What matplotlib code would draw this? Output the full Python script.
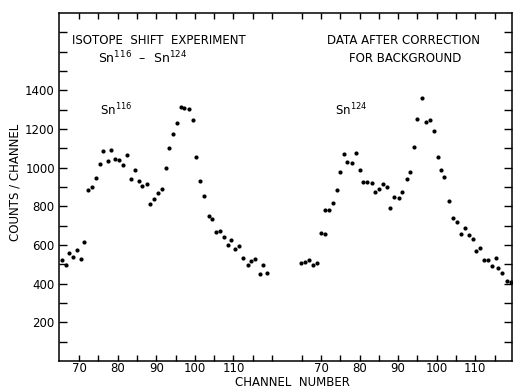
import numpy as np
import matplotlib
matplotlib.use("Agg")
import matplotlib.pyplot as plt

# Sn116 run (left half), channel numbers and counts
sn116_channel = [65.7, 66.5, 67.5, 68.5, 69.4, 70.4, 71.4, 72.3, 73.4, 74.3,
                 75.3, 76.3, 77.5, 78.4, 79.3, 80.4, 81.3, 82.4, 83.5, 84.6,
                 85.5, 86.4, 87.5, 88.3, 89.4, 90.4, 91.4, 92.5, 93.3, 94.4,
                 95.5, 96.3, 97.3, 98.5, 99.5, 100.3, 101.4, 102.5, 103.6, 104.5,
                 105.5, 106.5, 107.5, 108.5, 109.5, 110.5, 111.5, 112.5, 113.7, 114.6,
                 115.7, 116.8, 117.6, 118.6]
sn116_counts = [522, 495, 558, 538, 572, 529, 615, 884, 898, 947,
                1020, 1088, 1033, 1090, 1044, 1038, 1013, 1066, 941, 987,
                930, 906, 913, 810, 836, 867, 889, 1000, 1102, 1172,
                1230, 1314, 1306, 1301, 1244, 1057, 930, 855, 752, 735,
                665, 673, 640, 598, 625, 581, 596, 534, 495, 517,
                529, 452, 495, 454]

# Sn124 run (right half)
sn124_channel = [64.8, 65.9, 66.8, 68.0, 69.0, 70.0, 71.1, 71.0, 72.1, 73.0,
                 74.1, 74.9, 76.0, 76.8, 78.1, 79.1, 80.2, 81.0, 82.0, 83.1,
                 84.1, 85.1, 86.1, 87.0, 88.0, 89.0, 90.1, 91.1, 92.2, 93.0,
                 94.0, 94.9, 96.2, 97.1, 98.2, 99.2, 100.2, 101.0, 102.0, 103.1,
                 104.1, 105.2, 106.2, 107.2, 108.3, 109.3, 110.3, 111.3, 112.2, 113.2,
                 114.2, 115.3, 116.0, 117.0, 118.2, 119.2]
sn124_counts = [505, 510, 524, 495, 509, 663, 659, 783, 783, 819,
                882, 977, 1071, 1028, 1023, 1076, 989, 925, 925, 920,
                876, 892, 917, 901, 790, 850, 843, 872, 941, 978,
                1109, 1253, 1358, 1236, 1249, 1189, 1057, 989, 954, 828,
                738, 718, 659, 690, 651, 632, 570, 582, 522, 522,
                490, 532, 480, 454, 414, 409]

left_ticks = [70, 75, 80, 85, 90, 95, 100, 105, 110, 115, 120]
right_ticks = [65, 70, 75, 80, 85, 90, 95, 100, 105, 110, 115]
labelled = [70, 80, 90, 100, 110]
y_ticks = list(range(100, 1800, 100))
y_labelled = [200, 400, 600, 800, 1000, 1200, 1400]

shift = 62.7  # where the second run starts along the shared axis

plt.rcParams['font.family'] = 'DejaVu Sans'
fig = plt.figure(figsize=(5.13, 3.90), dpi=100)
ax = fig.add_axes([0.115, 0.0744, 0.883, 0.8923])

ax.plot(sn116_channel, sn116_counts, 'o', color='black', ms=3.0, mew=0)
ax.plot(np.array(sn124_channel) + shift, sn124_counts, 'o', color='black',
        ms=3.0, mew=0, clip_on=False)

ax.set_xlim(64.8, 182.2)
ax.set_ylim(0, 1800)

xt = left_ticks + [c + shift for c in right_ticks]
xl = [str(c) if c in labelled else '' for c in left_ticks] + \
     [str(c) if c in labelled else '' for c in right_ticks]
ax.set_xticks(xt)
ax.set_xticklabels(xl, fontsize=8.5)
ax.set_yticks(y_ticks)
ax.set_yticklabels([str(v) if v in y_labelled else '' for v in y_ticks], fontsize=8.5)

ax.tick_params(axis='x', direction='in', top=True, length=4, width=1, pad=1)
ax.tick_params(axis='y', direction='in', right=True, length=6, width=1, pad=3)
for s in ax.spines.values():
    s.set_linewidth(1.1)

ax.text(90.7, 1657, 'ISOTOPE  SHIFT  EXPERIMENT', ha='center', va='center', fontsize=8.5)
ax.text(86.6, 1565, r'Sn$^{116}$  –  Sn$^{124}$', ha='center', va='center', fontsize=9)
ax.text(154.2, 1657, 'DATA AFTER CORRECTION', ha='center', va='center', fontsize=8.5)
ax.text(154.5, 1565, 'FOR BACKGROUND', ha='center', va='center', fontsize=8.5)
ax.text(75.4, 1297, r'Sn$^{116}$', ha='left', va='center', fontsize=8.5)
ax.text(136.3, 1297, r'Sn$^{124}$', ha='left', va='center', fontsize=8.5)

fig.text(292 / 513, 1 - 383 / 390, 'CHANNEL  NUMBER', ha='center', va='center', fontsize=8.5)
fig.text(15.5 / 513, 1 - 182 / 390, 'COUNTS / CHANNEL', ha='center', va='center',
         rotation=90, fontsize=8.5)

fig.savefig('out.png', dpi=100)
